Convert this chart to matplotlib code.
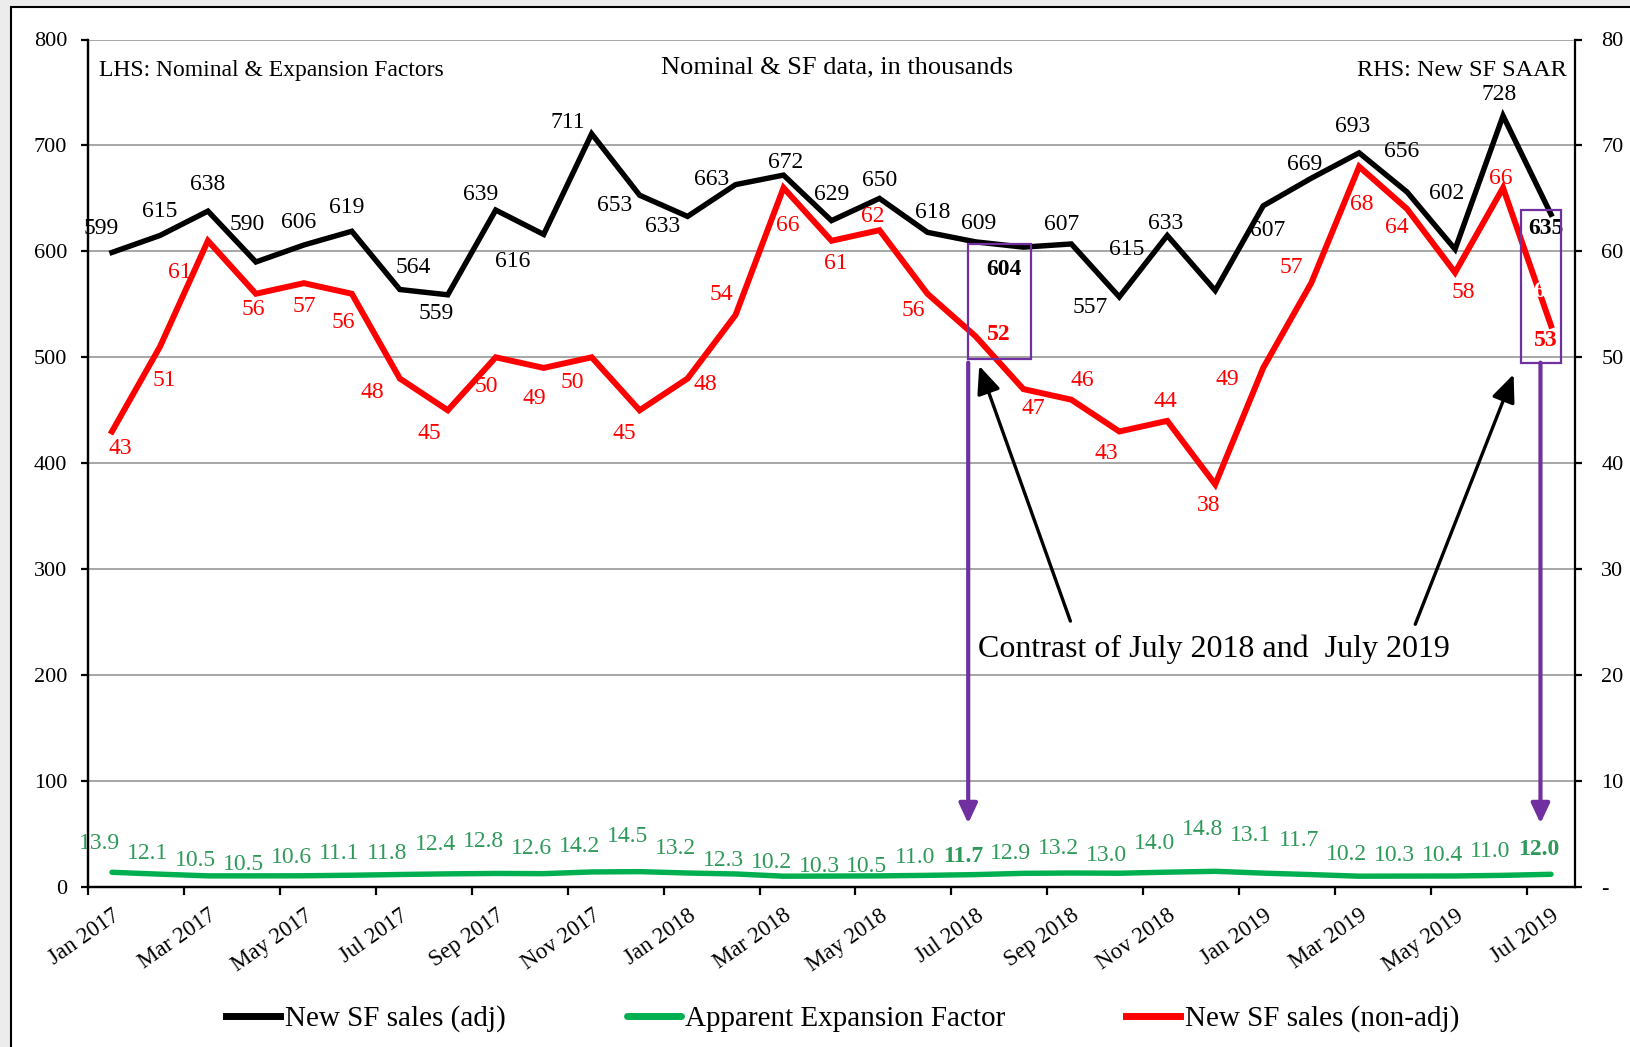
import numpy as np
import matplotlib
matplotlib.use('Agg')
import matplotlib.pyplot as plt
from matplotlib.patches import Rectangle
from matplotlib.ticker import FuncFormatter

plt.rcParams['font.family'] = ['Liberation Serif', 'DejaVu Serif']

# monthly data, Jan 2017 - Jul 2019 (thousands)
months = ['Jan 2017', 'Feb 2017', 'Mar 2017', 'Apr 2017', 'May 2017', 'Jun 2017',
          'Jul 2017', 'Aug 2017', 'Sep 2017', 'Oct 2017', 'Nov 2017', 'Dec 2017',
          'Jan 2018', 'Feb 2018', 'Mar 2018', 'Apr 2018', 'May 2018', 'Jun 2018',
          'Jul 2018', 'Aug 2018', 'Sep 2018', 'Oct 2018', 'Nov 2018', 'Dec 2018',
          'Jan 2019', 'Feb 2019', 'Mar 2019', 'Apr 2019', 'May 2019', 'Jun 2019',
          'Jul 2019']
sf_adj = [599, 615, 638, 590, 606, 619, 564, 559, 639, 616, 711, 653,
          633, 663, 672, 629, 650, 618, 609, 604, 607, 557, 615, 563,
          643, 669, 693, 656, 602, 728, 635]
sf_adj_labels = ['599', '615', '638', '590', '606', '619', '564', '559', '639', '616', '711', '653',
                 '633', '663', '672', '629', '650', '618', '609', '604', '607', '557', '615', '633',
                 '607', '669', '693', '656', '602', '728', '635']
sf_nonadj = [43, 51, 61, 56, 57, 56, 48, 45, 50, 49, 50, 45,
             48, 54, 66, 61, 62, 56, 52, 47, 46, 43, 44, 38,
             49, 57, 68, 64, 58, 66, 53]
expansion = [13.9, 12.1, 10.5, 10.5, 10.6, 11.1, 11.8, 12.4, 12.8, 12.6, 14.2, 14.5,
             13.2, 12.3, 10.2, 10.3, 10.5, 11.0, 11.7, 12.9, 13.2, 13.0, 14.0, 14.8,
             13.1, 11.7, 10.2, 10.3, 10.4, 11.0, 12.0]
tick_labels = months[::2]

# label offsets in points
adj_off = [(-7.5, 17), (0, 17), (0, 19), (-6, 27), (-4, 16.5), (-4, 17), (10, 16), (-8, -13.5),
           (-11, 11), (-22, -19.5), (-17, 8), (-18, -7.5), (-18, -7.5), (-17, 4), (1.5, 9),
           (0, 19), (0, 13), (4, 14), (2, 13), (-14, -16), (-7, 14), (-21, -7.5), (-29, -10),
           (-36, 48), (3, -18), (-5, 10), (-5, 19), (-4, 29), (-6, 40), (-3, 15), (-4, -10)]
nonadj_off = [(6, -12), (3, -24), (-20, -22.5), (-2, -11), (0, -17), (-6, -21), (-20, -10),
              (-13, -17), (-7, -21), (-7, -22), (-14, -18), (-11, -17), (13, -4.5), (-10, 15),
              (3, -27), (3, -16), (-4.5, 10), (-10.5, -12), (16.5, 1.5), (7, -14), (8, 13.5),
              (-9, -16), (-1.5, 14), (-4.5, -15), (-26, -8), (-14, 11), (2, -27), (-7.5, -13),
              (6, -14), (-1.5, 7), (-4, -11)]
exp_off = [20.4, 15.2, 11.4, 8.5, 12.8, 15.3, 15.4, 21.5, 23.3, 17.8, 18, 25, 18, 10, 10.2,
           6.6, 6.4, 13.2, 12.7, 14.6, 18, 13.1, 20.3, 30.4, 27.4, 24.2, 15.3, 14.5, 14.4,
           17.5, 17.5]

green = '#00b050'
green_txt = '#2e9a5a'
purple = '#7030a0'

fig = plt.figure(figsize=(16.3, 10.47), dpi=100)
fig.patch.set_facecolor('#ececec')
fig.add_artist(Rectangle((11 / 1630, -0.05), 1.1, 1.05 - 7 / 1047, transform=fig.transFigure,
                         facecolor='white', edgecolor='black', lw=1.5, zorder=-10))

ax = fig.add_axes([88 / 1630, 1 - 887 / 1047, (1575 - 88) / 1630, (887 - 39.5) / 1047])
ax.patch.set_alpha(0)
ax2 = ax.twinx()

x = np.arange(len(months))
l_adj, = ax.plot(x, sf_adj, color='black', lw=3.9, solid_joinstyle='miter', zorder=3)
l_exp, = ax.plot(x, expansion, color=green, lw=3.9, solid_capstyle='round', zorder=3)
l_non, = ax2.plot(x, sf_nonadj, color='red', lw=4.3, solid_joinstyle='miter', zorder=3)

ax.set_xlim(-0.5, 30.5)
ax.set_ylim(0, 800)
ax2.set_ylim(0, 80)
ax.set_yticks(range(0, 801, 100))
ax2.set_yticks(range(0, 81, 10))
ax2.yaxis.set_major_formatter(FuncFormatter(lambda v, p: '-' if v == 0 else f'{v:.0f}'))
ax.yaxis.grid(True, color='#a6a6a6', lw=1.4)
ax.set_axisbelow(True)

for a in (ax, ax2):
    a.spines['top'].set_visible(False)
    for s in ('left', 'right', 'bottom'):
        a.spines[s].set_linewidth(1.6)
        a.spines[s].set_color('black')
ax.spines['right'].set_visible(False)

ax.set_xticks(np.arange(-0.5, 30, 2))
ax.set_xticks(np.arange(0, 31, 2), minor=True)
ax.set_xticklabels(tick_labels, minor=True, rotation=35, ha='right', rotation_mode='anchor')
ax.tick_params(axis='x', which='major', labelbottom=False, length=6, width=1.6)
ax.tick_params(axis='x', which='minor', length=0, pad=13, labelsize=16.5)
ax.tick_params(axis='y', length=5, width=1.6, labelsize=16, pad=10)
ax2.tick_params(axis='y', length=5, width=1.6, labelsize=16, pad=14)

# data labels
for i in x:
    w = 'bold' if i in (19, 30) else 'normal'
    ax.annotate(sf_adj_labels[i], (i, sf_adj[i]), xytext=adj_off[i], textcoords='offset points',
                ha='center', va='center', fontsize=17, fontweight=w, color='black')
    w = 'bold' if i in (18, 30) else 'normal'
    ax2.annotate(str(sf_nonadj[i]), (i, sf_nonadj[i]), xytext=nonadj_off[i],
                 textcoords='offset points', ha='center', va='center', fontsize=17,
                 fontweight=w, color='red', zorder=5)
    ax.annotate(f'{expansion[i]:.1f}', (i, expansion[i]), xytext=(-9, exp_off[i]),
                textcoords='offset points', ha='center', va='center', fontsize=17,
                fontweight=w, color=green_txt)

# white label fragment sitting on the last red segment
ax2.text(29.76, 56.2, '6', fontsize=17, fontweight='bold', color='white',
         ha='center', va='center', zorder=5)

ax.text(0.0075, 0.964, 'LHS: Nominal & Expansion Factors', transform=ax.transAxes,
        fontsize=17, va='center', ha='left')
ax.text(0.504, 0.9675, 'Nominal & SF data, in thousands', transform=ax.transAxes,
        fontsize=19, va='center', ha='center')
ax.text(0.9946, 0.964, 'RHS: New SF SAAR', transform=ax.transAxes,
        fontsize=17.5, va='center', ha='right')

# highlight boxes and arrows for July 2018 vs July 2019
for x0, x1, y0, y1 in [(17.85, 19.15, 498, 607), (29.37, 30.2, 495, 639)]:
    ax2.add_patch(Rectangle((x0, y0), x1 - x0, y1 - y0, transform=ax.transData,
                            fill=False, edgecolor=purple, lw=1.6, zorder=6))
for xa in (17.85, 29.78):
    ax2.annotate('', xy=(xa, 60), xycoords=ax.transData, xytext=(xa, 495),
                 textcoords=ax.transData, zorder=6,
                 arrowprops=dict(arrowstyle='-|>,head_length=0.6,head_width=0.28',
                                 mutation_scale=20, color=purple, lw=3,
                                 shrinkA=0, shrinkB=0))
for tail, head in [((19.98, 251), (18.08, 492)), ((27.17, 248), (29.22, 484))]:
    ax2.annotate('', xy=head, xycoords=ax.transData, xytext=tail,
                 textcoords=ax.transData, zorder=6,
                 arrowprops=dict(arrowstyle='-|>,head_length=0.7,head_width=0.3',
                                 mutation_scale=24, color='black', lw=2.4,
                                 shrinkA=0, shrinkB=0))
ax2.text(18.06, 224, 'Contrast of July 2018 and  July 2019', transform=ax.transData,
         fontsize=23, va='center', ha='left', zorder=6)

leg = fig.legend([l_adj, l_exp, l_non],
                 ['New SF sales (adj)', 'Apparent Expansion Factor', 'New SF sales (non-adj)'],
                 loc='center', bbox_to_anchor=(0.517, 1 - 1019 / 1047), ncol=3, frameon=False,
                 fontsize=21, handlelength=1.85, handletextpad=0.15, columnspacing=4.15)
for h in leg.get_lines():
    h.set_linewidth(5)

fig.savefig('out.png', dpi=100, facecolor=fig.get_facecolor())
